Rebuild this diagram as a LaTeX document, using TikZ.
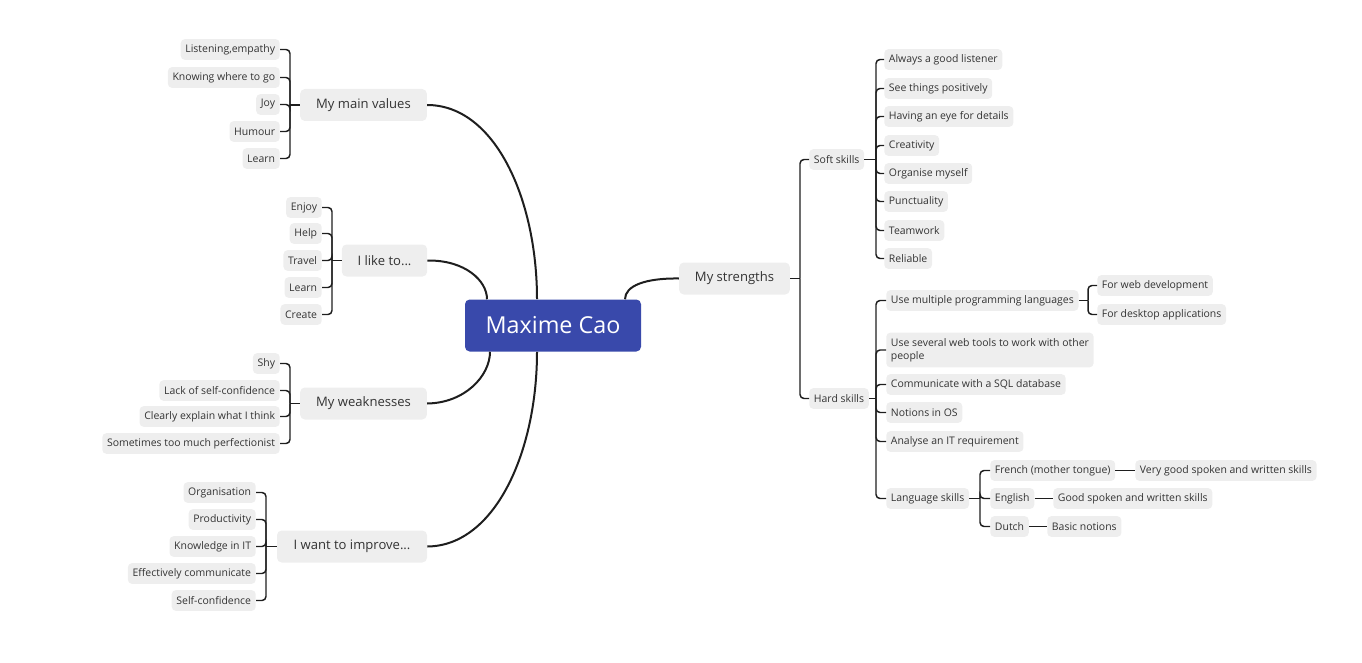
\documentclass[tikz,border=0pt]{standalone}
\usepackage{fontspec}
\setmainfont{Open Sans}
\definecolor{boxgray}{HTML}{EEEEEE}
\definecolor{txt}{HTML}{333333}
\definecolor{linec}{HTML}{1E1E1E}
\definecolor{centerblue}{HTML}{3949AB}
\begin{document}
\begin{tikzpicture}[x=0.75pt,y=-0.75pt,
  leaf/.style={fill=boxgray, rounded corners=3pt, text=txt, font=\fontsize{7.85}{9.5}\selectfont,
    minimum height=15.5pt, inner xsep=3.5pt, inner ysep=2pt},
  leafL/.style={leaf, anchor=east},
  leafR/.style={leaf, anchor=west},
  branch/.style={fill=boxgray, rounded corners=3.5pt, text=txt, font=\fontsize{9.8}{12}\selectfont,
    minimum height=24pt, inner xsep=6pt},
  mid/.style={fill=boxgray, rounded corners=3pt, text=txt, font=\fontsize{7.85}{9.5}\selectfont,
    minimum height=15.5pt, inner xsep=3.5pt, anchor=west},
  hub/.style={fill=centerblue, rounded corners=3.5pt, text=white, font=\fontsize{17.5}{20}\selectfont,
    minimum height=39pt, minimum width=132pt},
  curve/.style={draw=linec, line width=1.5pt},
  br/.style={draw=linec, line width=1.1pt, rounded corners=3pt},
  straight/.style={draw=linec, line width=1.4pt}]
\useasboundingbox (0,0) rectangle (1362,663);

% main branches
\node[branch, minimum width=95pt] (mv) at (363.5,105) {My main values};
\node[branch, minimum width=64pt] (il) at (384.5,260.5) {I like to...};
\node[branch, minimum width=95pt] (wk) at (363.5,403.5) {My weaknesses};
\node[branch, minimum width=112.5pt] (im) at (352,546.5) {I want to improve...};
\node[branch, minimum width=83pt] (st) at (734.5,278.5) {My strengths};

% center
\node[hub] (c) at (553,325.5) {Maxime Cao};

% curves to center
\draw[curve] (mv.east) .. controls (495,105) and ([xshift=-12pt,yshift=75pt]c.north) .. ([xshift=-12pt]c.north);
\draw[curve] (il.east) .. controls (465,260) and ([xshift=-49.5pt,yshift=14pt]c.north) .. ([xshift=-49.5pt]c.north);
\draw[curve] (wk.east) .. controls (465,403) and ([xshift=-47.25pt,yshift=-18pt]c.south) .. ([xshift=-47.25pt]c.south);
\draw[curve] (im.east) .. controls (495,546) and ([xshift=-12pt,yshift=-75pt]c.south) .. ([xshift=-12pt]c.south);
\draw[curve] (st.west) .. controls (645,278) and ([xshift=54pt,yshift=10pt]c.north) .. ([xshift=54pt]c.north);

% My main values leaves
\node[leafL] (mv1) at (280,49.5) {Listening,empathy};
\node[leafL] (mv2) at (280,77.5) {Knowing where to go};
\node[leafL] (mv3) at (280,104.5) {Joy};
\node[leafL] (mv4) at (280,131.5) {Humour};
\node[leafL] (mv5) at (280,158.5) {Learn};
\coordinate (jmv) at (290,105);
\draw[br] (mv.west) -- (jmv);
\foreach \n in {mv1,mv2,mv3,mv4,mv5} \draw[br] (jmv) |- (\n.east);

% I like to leaves
\node[leafL] (il1) at (322,207.5) {Enjoy};
\node[leafL] (il2) at (322,233.5) {Help};
\node[leafL] (il3) at (322,260.5) {Travel};
\node[leafL] (il4) at (322,287.5) {Learn};
\node[leafL] (il5) at (322,314.5) {Create};
\coordinate (jil) at (332,260.5);
\draw[br] (il.west) -- (jil);
\foreach \n in {il1,il2,il3,il4,il5} \draw[br] (jil) |- (\n.east);

% weaknesses
\node[leafL] (wk1) at (280,363.5) {Shy};
\node[leafL] (wk2) at (280,390.5) {Lack of self-confidence};
\node[leafL] (wk3) at (280,416.5) {Clearly explain what I think};
\node[leafL] (wk4) at (280,443.5) {Sometimes too much perfectionist};
\coordinate (jwk) at (290,403.5);
\draw[br] (wk.west) -- (jwk);
\foreach \n in {wk1,wk2,wk3,wk4} \draw[br] (jwk) |- (\n.east);

% improve
\node[leafL] (im1) at (256,492.5) {Organisation};
\node[leafL] (im2) at (256,519.5) {Productivity};
\node[leafL] (im3) at (256,546.5) {Knowledge in IT};
\node[leafL] (im4) at (256,573.5) {Effectively communicate};
\node[leafL] (im5) at (256,600.5) {Self-confidence};
\coordinate (jim) at (266,546.5);
\draw[br] (im.west) -- (jim);
\foreach \n in {im1,im2,im3,im4,im5} \draw[br] (jim) |- (\n.east);

% strengths
\node[mid] (soft) at (809,159.5) {Soft skills};
\node[mid] (hard) at (809,398.5) {Hard skills};
\coordinate (jst) at (800,278.5);
\draw[br] (st.east) -- (jst);
\foreach \n in {soft,hard} \draw[br] (jst) |- (\n.west);

% soft skills
\node[leafR] (s1) at (884,59.5) {Always a good listener};
\node[leafR] (s2) at (884,88.5) {See things positively};
\node[leafR] (s3) at (884,116.5) {Having an eye for details};
\node[leafR] (s4) at (884,145.5) {Creativity};
\node[leafR] (s5) at (884,173.5) {Organise myself};
\node[leafR] (s6) at (884,201.5) {Punctuality};
\node[leafR] (s7) at (884,230.5) {Teamwork};
\node[leafR] (s8) at (884,258.5) {Reliable};
\coordinate (jso) at (876,159.5);
\draw[br] (soft.east) -- (jso);
\foreach \n in {s1,s2,s3,s4,s5,s6,s7,s8} \draw[br] (jso) |- (\n.west);

% hard skills
\node[leafR] (h1) at (886,300.5) {Use multiple programming languages};
\node[leafR, align=left, minimum height=26pt] (h2) at (886,350) {Use several web tools to work with other\\people};
\node[leafR] (h3) at (886,384.5) {Communicate with a SQL database};
\node[leafR] (h4) at (886,412.5) {Notions in OS};
\node[leafR] (h5) at (886,441.5) {Analyse an IT requirement};
\node[leafR] (h6) at (886,498.5) {Language skills};
\coordinate (jha) at (876,398.5);
\draw[br] (hard.east) -- (jha);
\foreach \n in {h1,h2,h3,h4,h5,h6} \draw[br] (jha) |- (\n.west);

% programming languages
\node[leafR] (p1) at (1097,285.5) {For web development};
\node[leafR] (p2) at (1097,314.5) {For desktop applications};
\coordinate (jpr) at (1088,300.5);
\draw[br] (h1.east) -- (jpr);
\foreach \n in {p1,p2} \draw[br] (jpr) |- (\n.west);

% language skills
\node[leafR] (l1) at (990,470.5) {French (mother tongue)};
\node[leafR] (l2) at (990,498.5) {English};
\node[leafR] (l3) at (990,526.5) {Dutch};
\coordinate (jla) at (980,498.5);
\draw[br] (h6.east) -- (jla);
\foreach \n in {l1,l2,l3} \draw[br] (jla) |- (\n.west);

\node[leafR] (v1) at (1135,470.5) {Very good spoken and written skills};
\node[leafR] (v2) at (1053,498.5) {Good spoken and written skills};
\node[leafR] (v3) at (1047,526.5) {Basic notions};
\draw[straight] (l1.east) -- (v1.west);
\draw[straight] (l2.east) -- (v2.west);
\draw[straight] (l3.east) -- (v3.west);
\end{tikzpicture}
\end{document}
